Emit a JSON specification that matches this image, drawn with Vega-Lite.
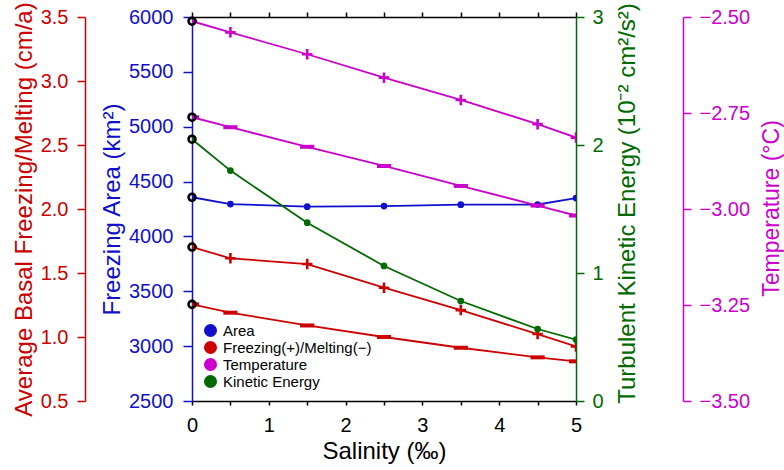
{
  "$schema": "https://vega.github.io/schema/vega-lite/v6.json",
  "width": 384,
  "height": 384,
  "autosize": {"type": "none"},
  "padding": {"left": 192, "top": 17, "right": 208, "bottom": 69},
  "background": "white",
  "config": {
    "font": "Liberation Sans",
    "view": {"stroke": null},
    "axis": {
      "grid": false,
      "labelFont": "Liberation Sans",
      "titleFont": "Liberation Sans",
      "labelFontSize": 20,
      "titleFontSize": 24,
      "titleFontWeight": "normal",
      "tickWidth": 1.5,
      "domainWidth": 1.5,
      "labelFlush": false,
      "labelOverlap": false
    }
  },
  "data": {
    "values": [
      {"s": 0, "v": 4357, "var": "Area", "m": "dot"},
      {"s": 0.5, "v": 4295, "var": "Area", "m": "dot"},
      {"s": 1.5, "v": 4271, "var": "Area", "m": "dot"},
      {"s": 2.5, "v": 4277, "var": "Area", "m": "dot"},
      {"s": 3.5, "v": 4289, "var": "Area", "m": "dot"},
      {"s": 4.5, "v": 4291, "var": "Area", "m": "dot"},
      {"s": 5, "v": 4350, "var": "Area", "m": "dot"},
      {"s": 0, "v": 1.703, "var": "Freezing", "m": "plus"},
      {"s": 0.5, "v": 1.615, "var": "Freezing", "m": "plus"},
      {"s": 1.5, "v": 1.57, "var": "Freezing", "m": "plus"},
      {"s": 2.5, "v": 1.385, "var": "Freezing", "m": "plus"},
      {"s": 3.5, "v": 1.21, "var": "Freezing", "m": "plus"},
      {"s": 4.5, "v": 1.023, "var": "Freezing", "m": "plus"},
      {"s": 5, "v": 0.926, "var": "Freezing", "m": "plus"},
      {"s": 0, "v": 1.255, "var": "Freezing", "m": "minus"},
      {"s": 0.5, "v": 1.19, "var": "Freezing", "m": "minus"},
      {"s": 1.5, "v": 1.09, "var": "Freezing", "m": "minus"},
      {"s": 2.5, "v": 1.0, "var": "Freezing", "m": "minus"},
      {"s": 3.5, "v": 0.916, "var": "Freezing", "m": "minus"},
      {"s": 4.5, "v": 0.841, "var": "Freezing", "m": "minus"},
      {"s": 5, "v": 0.81, "var": "Freezing", "m": "minus"},
      {"s": 0, "v": -2.511, "var": "Temperature", "m": "plus"},
      {"s": 0.5, "v": -2.54, "var": "Temperature", "m": "plus"},
      {"s": 1.5, "v": -2.597, "var": "Temperature", "m": "plus"},
      {"s": 2.5, "v": -2.658, "var": "Temperature", "m": "plus"},
      {"s": 3.5, "v": -2.716, "var": "Temperature", "m": "plus"},
      {"s": 4.5, "v": -2.779, "var": "Temperature", "m": "plus"},
      {"s": 5, "v": -2.814, "var": "Temperature", "m": "plus"},
      {"s": 0, "v": -2.761, "var": "Temperature", "m": "minus"},
      {"s": 0.5, "v": -2.787, "var": "Temperature", "m": "minus"},
      {"s": 1.5, "v": -2.838, "var": "Temperature", "m": "minus"},
      {"s": 2.5, "v": -2.888, "var": "Temperature", "m": "minus"},
      {"s": 3.5, "v": -2.94, "var": "Temperature", "m": "minus"},
      {"s": 4.5, "v": -2.991, "var": "Temperature", "m": "minus"},
      {"s": 5, "v": -3.017, "var": "Temperature", "m": "minus"},
      {"s": 0, "v": 2.045, "var": "KE", "m": "dot"},
      {"s": 0.5, "v": 1.8, "var": "KE", "m": "dot"},
      {"s": 1.5, "v": 1.393, "var": "KE", "m": "dot"},
      {"s": 2.5, "v": 1.055, "var": "KE", "m": "dot"},
      {"s": 3.5, "v": 0.781, "var": "KE", "m": "dot"},
      {"s": 4.5, "v": 0.5625, "var": "KE", "m": "dot"},
      {"s": 5, "v": 0.48, "var": "KE", "m": "dot"},
      {"s": 0, "v": 0, "var": "legendkey", "m": "none"}
    ]
  },
  "layer": [
    {
      "transform": [{"filter": "datum.var == 'Area'"}],
      "encoding": {
        "x": {
          "field": "s", "type": "quantitative",
          "scale": {"domain": [0, 5], "nice": false, "zero": false},
          "axis": {
            "orient": "bottom",
            "values": [0, 0.5, 1, 1.5, 2, 2.5, 3, 3.5, 4, 4.5, 5],
            "format": ".1f",
            "labelExpr": "datum.value % 1 == 0 ? format(datum.value, 'd') : ''",
            "title": "Salinity (‰)",
            "domainColor": "black", "tickColor": "black", "labelColor": "black", "titleColor": "black",
            "tickSize": 4, "labelPadding": 10, "titlePadding": 4
          }
        },
        "y": {
          "field": "v", "type": "quantitative",
          "scale": {"domain": [2500, 6000], "nice": false, "zero": false},
          "axis": {
            "orient": "left",
            "values": [2500, 3000, 3500, 4000, 4500, 5000, 5500, 6000],
            "format": "d",
            "title": "Freezing Area (km²)",
            "domainColor": "#1010CC", "tickColor": "#1010CC", "labelColor": "#1010CC", "titleColor": "#1010CC",
            "tickSize": 9, "labelPadding": 10, "titlePadding": 4
          }
        }
      },
      "layer": [
        {"mark": {"type": "line", "color": "#1010CC", "strokeWidth": 1.8, "clip": true}},
        {"mark": {"type": "point", "shape": "circle", "filled": true, "size": 45, "color": "#1010CC", "opacity": 1, "clip": true}},
        {"transform": [{"filter": "datum.s == 0"}], "mark": {"type": "point", "shape": "circle", "filled": false, "size": 48, "stroke": "black", "strokeWidth": 2.6, "opacity": 1}}
      ]
    },
    {
      "transform": [{"filter": "datum.var == 'Freezing'"}],
      "encoding": {
        "x": {
          "field": "s", "type": "quantitative",
          "scale": {"domain": [0, 5], "nice": false, "zero": false},
          "axis": {
            "orient": "top",
            "values": [0, 0.5, 1, 1.5, 2, 2.5, 3, 3.5, 4, 4.5, 5],
            "labels": false, "title": null,
            "domainColor": "black", "tickColor": "black", "tickSize": 5
          }
        },
        "y": {
          "field": "v", "type": "quantitative",
          "scale": {"domain": [0.5, 3.5], "nice": false, "zero": false},
          "axis": {
            "orient": "left", "offset": 107,
            "values": [0.5, 1, 1.5, 2, 2.5, 3, 3.5],
            "format": ".1f",
            "title": "Average Basal Freezing/Melting (cm/a)",
            "domainColor": "#CC0000", "tickColor": "#CC0000", "labelColor": "#CC0000", "titleColor": "#CC0000",
            "tickSize": 8, "labelPadding": 9, "titlePadding": 4
          }
        }
      },
      "layer": [
        {"mark": {"type": "line", "color": "#CC0000", "strokeWidth": 1.8, "clip": true}, "encoding": {"detail": {"field": "m"}}},
        {"transform": [{"filter": "datum.m == 'plus'"}], "mark": {"type": "point", "shape": "M-1,0H1M0,-1V1", "filled": false, "size": 110, "color": "#CC0000", "strokeWidth": 2.6, "opacity": 1, "clip": true}},
        {"transform": [{"filter": "datum.m == 'minus'"}], "mark": {"type": "point", "shape": "M-1,0H1", "filled": false, "size": 200, "color": "#CC0000", "strokeWidth": 4, "opacity": 1, "clip": true}},
        {"transform": [{"filter": "datum.s == 0"}], "mark": {"type": "point", "shape": "circle", "filled": false, "size": 48, "stroke": "black", "strokeWidth": 2.6, "opacity": 1}}
      ]
    },
    {
      "transform": [{"filter": "datum.var == 'Temperature'"}],
      "encoding": {
        "x": {
          "field": "s", "type": "quantitative",
          "scale": {"domain": [0, 5], "nice": false, "zero": false},
          "axis": null
        },
        "y": {
          "field": "v", "type": "quantitative",
          "scale": {"domain": [-3.5, -2.5], "nice": false, "zero": false},
          "axis": {
            "orient": "right", "offset": 107,
            "values": [-3.5, -3.25, -3, -2.75, -2.5],
            "format": ".2f",
            "title": "Temperature (°C)",
            "titleFontSize": 23,
            "titleAngle": 270, "titleBaseline": "top", "titleY": 191,
            "domainColor": "#CC00CC", "tickColor": "#CC00CC", "labelColor": "#CC00CC", "titleColor": "#CC00CC",
            "tickSize": 8, "labelPadding": 8, "titlePadding": 11
          }
        }
      },
      "layer": [
        {"mark": {"type": "line", "color": "#CC00CC", "strokeWidth": 1.8, "clip": true}, "encoding": {"detail": {"field": "m"}}},
        {"transform": [{"filter": "datum.m == 'plus'"}], "mark": {"type": "point", "shape": "M-1,0H1M0,-1V1", "filled": false, "size": 110, "color": "#CC00CC", "strokeWidth": 2.6, "opacity": 1, "clip": true}},
        {"transform": [{"filter": "datum.m == 'minus'"}], "mark": {"type": "point", "shape": "M-1,0H1", "filled": false, "size": 200, "color": "#CC00CC", "strokeWidth": 4, "opacity": 1, "clip": true}},
        {"transform": [{"filter": "datum.s == 0"}], "mark": {"type": "point", "shape": "circle", "filled": false, "size": 48, "stroke": "black", "strokeWidth": 2.6, "opacity": 1}}
      ]
    },
    {
      "transform": [{"filter": "datum.var == 'KE' || datum.var == 'legendkey'"}],
      "encoding": {
        "x": {
          "field": "s", "type": "quantitative",
          "scale": {"domain": [0, 5], "nice": false, "zero": false},
          "axis": null
        },
        "y": {
          "field": "v", "type": "quantitative",
          "scale": {"domain": [0, 3], "nice": false, "zero": false},
          "axis": {
            "orient": "right",
            "values": [0, 1, 2, 3],
            "format": "d",
            "title": "Turbulent Kinetic Energy (10⁻² cm²/s²)",
            "titleAngle": 270, "titleBaseline": "top", "titleY": 186,
            "domainColor": "#006A00", "tickColor": "#006A00", "labelColor": "#006A00", "titleColor": "#006A00",
            "tickSize": 8, "labelPadding": 8, "titlePadding": 12
          }
        }
      },
      "layer": [
        {"transform": [{"filter": "datum.var == 'KE'"}], "mark": {"type": "line", "color": "#006A00", "strokeWidth": 1.8, "clip": true}},
        {"transform": [{"filter": "datum.var == 'KE'"}], "mark": {"type": "point", "shape": "circle", "filled": true, "size": 45, "color": "#006A00", "opacity": 1, "clip": true}},
        {"transform": [{"filter": "datum.var == 'KE' && datum.s == 0"}], "mark": {"type": "point", "shape": "circle", "filled": false, "size": 48, "stroke": "black", "strokeWidth": 2.6, "opacity": 1}},
        {
          "transform": [{"filter": "datum.var == 'legendkey'"}],
          "mark": {"type": "point", "shape": "circle", "filled": true, "size": 0, "opacity": 0},
          "encoding": {
            "color": {
              "field": "var", "type": "nominal",
              "scale": {"domain": ["Area", "Freezing(+)/Melting(−)", "Temperature", "Kinetic Energy"], "range": ["#1010CC", "#CC0000", "#CC00CC", "#006A00"]},
              "legend": {
                "orient": "none", "legendX": 11, "legendY": 306, "title": null,
                "symbolType": "circle", "symbolSize": 170, "symbolOpacity": 1, "symbolStrokeWidth": 0,
                "labelFont": "Liberation Sans", "labelFontSize": 15, "labelColor": "black",
                "padding": 0, "rowPadding": 1, "labelOffset": 5
              }
            }
          }
        }
      ]
    }
  ],
  "resolve": {"scale": {"y": "independent"}, "axis": {"x": "independent"}}
}
